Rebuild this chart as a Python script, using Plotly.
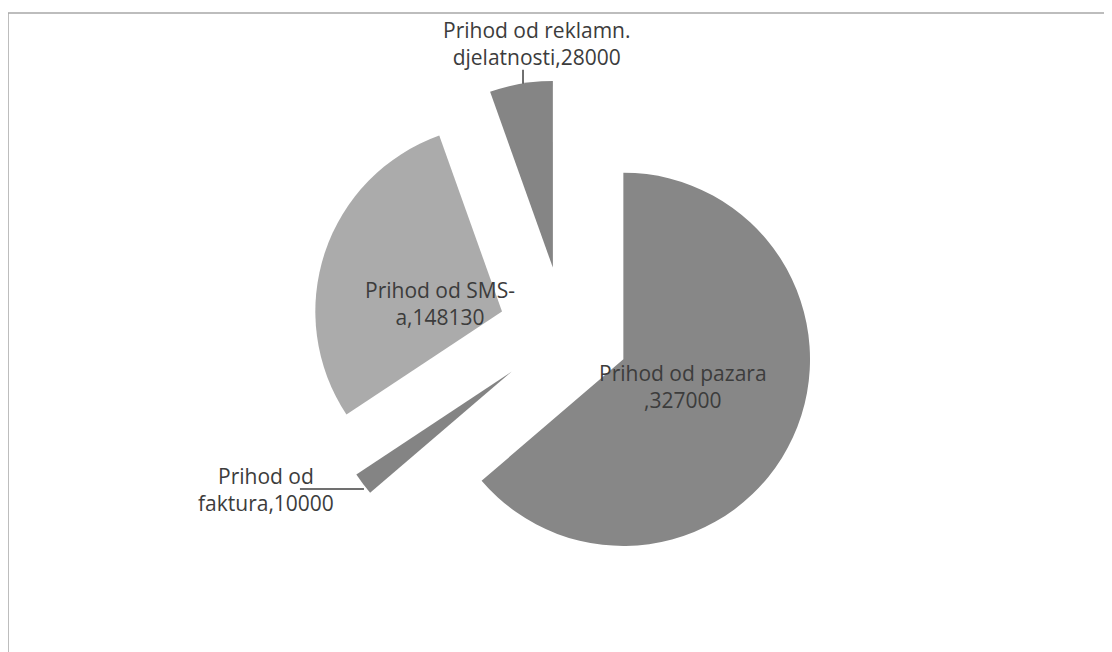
import math
import plotly.graph_objects as go

labels = ["Prihod od pazara", "Prihod od faktura", "Prihod od SMS-a", "Prihod od reklamn. djelatnosti"]
values = [327000, 10000, 148130, 28000]
# how each data label is wrapped (break after this many characters of "label,value")
wrap_at = [16, 9, 14, 18]
colors = ["#878787", "#848484", "#ababab", "#858585"]

texts = []
for lab, val, w in zip(labels, values, wrap_at):
    s = f"{lab},{val}"
    texts.append(s[:w].rstrip() + "<br>" + s[w:].lstrip())

# ---- layout geometry (figure pixels; page body adds an 8px offset) ----
W, H = 1112, 652
OFF = 8
cx, cy, ext = 564 - OFF, 332 - OFF, 252
PULL = 0.35
R = ext / (1 + PULL)

# label placement: inside labels sit along the slice's mid-angle at a fraction of the radius
# (plus a small nudge); outside labels get a leader line from the slice's outer mid-point
label_mode = ["inside", "outside", "inside", "outside"]
inside_frac = 0.35
inside_nudge = {0: (0, 0), 2: (0, 13)}
outside_text_offset = {1: (-97, 6), 3: (15, -40)}
outside_leader_start = {1: (1, 5), 3: (2, 0)}
outside_leader_end = {1: (-63, 5), 3: (2, -14)}

total = sum(values)
mids = []
acc = 0.0
for v in values:
    mids.append((acc + v / 2) / total * 360.0)
    acc += v


def to_paper(px, py):
    return px / W, 1 - py / H


fnt = dict(family="Open Sans", size=21, color="#3c3c3c")

annotations = []
shapes = [dict(type="rect", xref="paper", yref="paper",
               x0=0, x1=1.02, y0=-0.02, y1=1 - (13 - OFF) / H,
               line=dict(color="#a8a8a8", width=1.5))]

for i, (t, m) in enumerate(zip(texts, mids)):
    a = math.radians(m)
    dx, dy = math.sin(a), -math.cos(a)
    vx, vy = cx + PULL * R * dx, cy + PULL * R * dy  # apex of the pulled slice
    if label_mode[i] == "inside":
        nx, ny = inside_nudge[i]
        px, py = to_paper(vx + inside_frac * R * dx + nx, vy + inside_frac * R * dy + ny)
        annotations.append(dict(x=px, y=py, xref="paper", yref="paper", text=t,
                                showarrow=False, font=fnt, align="center",
                                xanchor="center", yanchor="middle"))
    else:
        ex, ey = vx + R * dx, vy + R * dy  # outer mid-point of the slice
        tx, ty = outside_text_offset[i]
        sx, sy = outside_leader_start[i]
        lx, ly = outside_leader_end[i]
        px, py = to_paper(ex + tx, ey + ty)
        annotations.append(dict(x=px, y=py, xref="paper", yref="paper", text=t,
                                showarrow=False, font=fnt, align="center",
                                xanchor="center", yanchor="middle"))
        x0, y0 = to_paper(ex + sx, ey + sy)
        x1, y1 = to_paper(ex + lx, ey + ly)
        shapes.append(dict(type="line", xref="paper", yref="paper",
                           x0=x0, y0=y0, x1=x1, y1=y1,
                           line=dict(color="#404040", width=1.5)))

fig = go.Figure(go.Pie(
    labels=labels,
    values=values,
    textinfo="none",
    sort=False,
    direction="clockwise",
    rotation=0,
    pull=[PULL] * len(values),
    marker=dict(colors=colors, line=dict(width=0)),
    domain=dict(x=[(cx - ext) / W, (cx + ext) / W], y=[1 - (cy + ext) / H, 1 - (cy - ext) / H]),
    showlegend=False,
    hoverinfo="label+value",
    automargin=False,
))

fig.update_layout(
    width=W, height=H,
    margin=dict(l=0, r=0, t=0, b=0, pad=0, autoexpand=False),
    paper_bgcolor="white",
    plot_bgcolor="white",
    annotations=annotations,
    shapes=shapes,
)

fig.write_html("out.html")
